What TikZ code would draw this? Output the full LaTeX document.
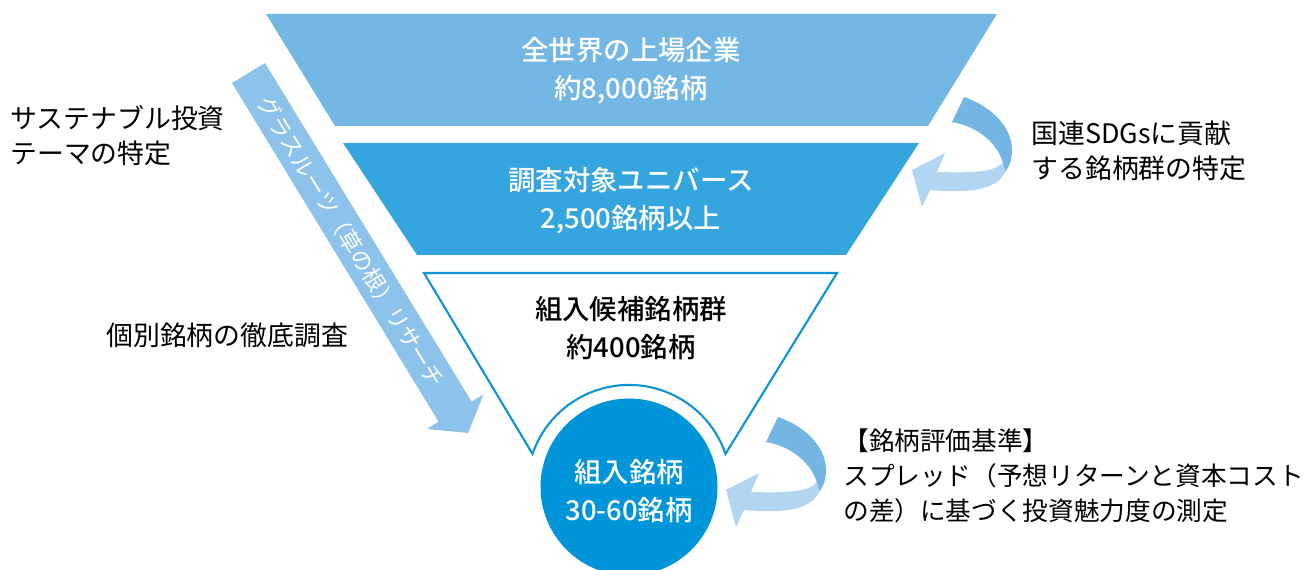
\documentclass[tikz,border=0pt]{standalone}
\usepackage{fontspec}
\setmainfont{Noto Sans CJK JP}
\newfontfamily\jpmed{Noto Sans CJK JP Medium}
\definecolor{topc}{HTML}{73B7E4}
\definecolor{midc}{HTML}{34A5DF}
\definecolor{linec}{HTML}{0E93D3}
\definecolor{discc}{HTML}{0095D9}
\definecolor{arrdark}{HTML}{73B5E3}
\definecolor{arrlight}{HTML}{B2D5F2}
\definecolor{diagc}{HTML}{8DC2EA}
\begin{document}
\begin{tikzpicture}[x=0.02cm,y=-0.02cm,
  lbl/.style={font=\jpmed\fontsize{15.6}{21.5}\selectfont, align=center, inner sep=0pt},
  side/.style={font=\fontsize{15.3}{20}\selectfont, align=left, inner sep=0pt, anchor=west},
  wlbl/.style={lbl, text=white}]
\useasboundingbox (0,0) rectangle (1314,570);
% funnel
\fill[topc] (266,14) -- (997,14) -- (928,126) -- (335,126) -- cycle;
\fill[midc] (343,143) -- (919,143) -- (846,255) -- (417,255) -- cycle;
\draw[linec, line width=1.2pt, line join=miter] (424,273) -- (837,273) -- (725.5,453.9)
   arc[start angle=-18.9, end angle=-161.1, radius=102] -- cycle;
\fill[discc] (629,487) circle[radius=88.5];
% diagonal arrow
\fill[diagc] (232,83) -- (265,63) -- (471.6,401.6) -- (483.3,394.5) -- (468.2,433)
   -- (426.9,428.9) -- (438.6,421.8) -- cycle;
\node[font=\fontsize{12.8}{14}\selectfont, text=white, rotate=-58.6, inner sep=0pt] (grass) at (351,242) {グラスルーツ（草の根）リサーチ};
% curved arrows
\foreach \dx/\dy in {0/0,-186/320}{
\begin{scope}[shift={(\dx,\dy)}]
\fill[arrdark] (964,97) .. controls (993,107) and (1012,128) .. (1012,150)
   .. controls (1012,160) and (1009,167) .. (1005,172) -- (1003,163)
   .. controls (998,145) and (980,127) .. (952,122) -- cycle;
\fill[arrlight] (1003,162) .. controls (995,172) and (975,173) .. (937,172)
   -- (945,153) -- (912,170) -- (922,207) -- (930,190)
   .. controls (975,194) and (998,188) .. (1005,172) -- cycle;
\end{scope}}
% labels
\node[wlbl] (t1) at (631,71) {全世界の上場企業\\約8,000銘柄};
\node[wlbl] (t2) at (631,201) {調査対象ユニバース\\2,500銘柄以上};
\node[lbl] (t3) at (631,328) {組入候補銘柄群\\約400銘柄};
\node[wlbl] (t4) at (629,491) {組入銘柄\\30-60銘柄};
\node[side] (l1) at (10,136) {サステナブル投資\\テーマの特定};
\node[side] (l2) at (106,335) {個別銘柄の徹底調査};
\node[side] (r1) at (1031,151) {国連SDGsに貢献\\する銘柄群の特定};
\node[side, font=\fontsize{14.6}{20}\selectfont] (r2) at (843,476) {【銘柄評価基準】\\スプレッド（予想リターンと資本コスト\\の差）に基づく投資魅力度の測定};
\end{tikzpicture}
\end{document}
